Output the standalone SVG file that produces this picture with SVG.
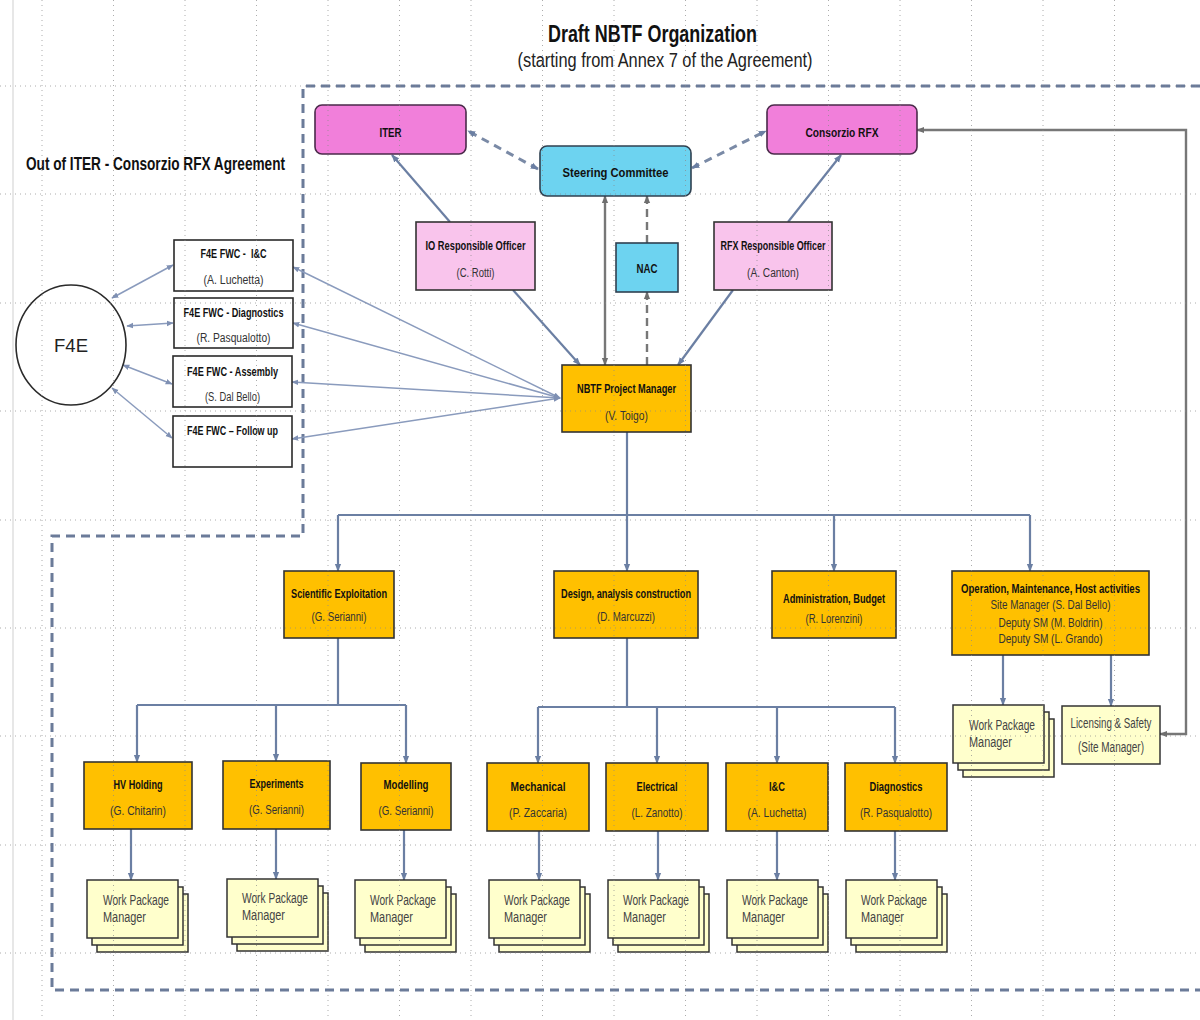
<svg xmlns="http://www.w3.org/2000/svg" xmlns:xlink="http://www.w3.org/1999/xlink" width="1200" height="1020" viewBox="0 0 1200 1020">
<style>
text{font-family:"Liberation Sans",Arial,sans-serif;}
.t{font-size:13px;font-weight:bold;text-anchor:middle;fill:#111;}
.s{font-size:12px;text-anchor:middle;fill:#333;}
.w{font-size:14px;fill:#444;}
.pink{fill:#F17FDA;stroke:#4a2a4a;stroke-width:1.6;}
.cyan{fill:#6DD3F0;stroke:#2f4050;stroke-width:1.6;}
.lpink{fill:#F9C4EC;stroke:#333;stroke-width:1.6;}
.org{fill:#FFC000;stroke:#333;stroke-width:1.6;}
.wp{fill:#FFFFCC;stroke:#333;stroke-width:1.5;}
.wh{fill:#fff;stroke:#2a2a2a;stroke-width:1.6;}
.tree{fill:none;stroke:#6b7fa3;stroke-width:2.2;}
.gr{fill:none;stroke:#777;stroke-width:2.4;}
.thin{fill:none;stroke:#8a9bbd;stroke-width:1.5;}
.dsh{fill:none;stroke:#7a8aa6;stroke-width:3;stroke-dasharray:8 6;}
.grid{fill:none;stroke:#8a8a8a;stroke-width:1;stroke-dasharray:1 4;}
</style>
<defs>
<marker id="ab" viewBox="0 0 10 10" refX="9" refY="5" markerWidth="8" markerHeight="8" markerUnits="userSpaceOnUse" orient="auto-start-reverse"><path d="M0,1 L10,5 L0,9 z" fill="#6b7fa3"/></marker>
<marker id="ag" viewBox="0 0 10 10" refX="9" refY="5" markerWidth="8" markerHeight="8" markerUnits="userSpaceOnUse" orient="auto-start-reverse"><path d="M0,1 L10,5 L0,9 z" fill="#6f6f6f"/></marker>
<marker id="at" viewBox="0 0 10 10" refX="9" refY="5" markerWidth="7" markerHeight="7" markerUnits="userSpaceOnUse" orient="auto-start-reverse"><path d="M0,1 L10,5 L0,9 z" fill="#7f90b3"/></marker>
<g id="wpstack">
<rect class="wp" x="10" y="14" width="91" height="58"/>
<rect class="wp" x="5" y="7" width="91" height="58"/>
<rect class="wp" x="0" y="0" width="91" height="58"/>
</g>
</defs>
<rect width="1200" height="1020" fill="#fff"/>

<g id="title">
<text x="652.5" y="42" font-size="23" font-weight="bold" text-anchor="middle" fill="#111" textLength="209" lengthAdjust="spacingAndGlyphs">Draft NBTF Organization</text>
<text x="665" y="67" font-size="20" text-anchor="middle" fill="#222" textLength="295" lengthAdjust="spacingAndGlyphs">(starting from Annex 7 of the Agreement)</text>
<text x="26" y="170" font-size="19" font-weight="bold" fill="#111" textLength="259" lengthAdjust="spacingAndGlyphs">Out of ITER - Consorzio RFX Agreement</text>
</g>

<g id="boundary">
<path d="M1200,86 H303 V536 H52 V990 H1200" fill="none" stroke="#6b7b99" stroke-width="3" stroke-dasharray="9 6"/>
</g>

<g id="connectors">
<path class="dsh" d="M538,169 L468,131" marker-start="url(#ab)" marker-end="url(#ab)"/>
<path class="dsh" d="M692,168 L766,131" marker-start="url(#ab)" marker-end="url(#ab)"/>
<path class="tree" stroke-width="2.5" d="M450,222 L392,155" marker-end="url(#ab)"/>
<path class="tree" stroke-width="2.5" d="M788,222 L841,155" marker-end="url(#ab)"/>
<path class="tree" stroke-width="2.5" d="M513,290 L580,365" marker-end="url(#ab)"/>
<path class="tree" stroke-width="2.5" d="M733,290 L678,365" marker-end="url(#ab)"/>
<path class="gr" d="M605,365 V196" marker-start="url(#ag)" marker-end="url(#ag)"/>
<path class="gr" stroke-dasharray="8 5" d="M647,365 V292" marker-end="url(#ag)"/>
<path class="gr" stroke-dasharray="8 5" d="M647,243 V196" marker-end="url(#ag)"/>
<path class="gr" d="M1160,734 H1186 V130 H917" marker-start="url(#ag)" marker-end="url(#ag)"/>
<path class="thin" d="M560,398 L293,267" marker-start="url(#at)" marker-end="url(#at)"/>
<path class="thin" d="M560,398 L293,323" marker-start="url(#at)" marker-end="url(#at)"/>
<path class="thin" d="M560,398 L292,382" marker-start="url(#at)" marker-end="url(#at)"/>
<path class="thin" d="M560,398 L292,439" marker-start="url(#at)" marker-end="url(#at)"/>
<path class="thin" d="M112,298 L173,265" marker-start="url(#at)" marker-end="url(#at)"/>
<path class="thin" d="M127,326 L173,323" marker-start="url(#at)" marker-end="url(#at)"/>
<path class="thin" d="M123,365 L172,384" marker-start="url(#at)" marker-end="url(#at)"/>
<path class="thin" d="M112,388 L172,438" marker-start="url(#at)" marker-end="url(#at)"/>
<path class="tree" d="M627,432 V571" marker-end="url(#ab)"/>
<path class="tree" d="M338,515 H1030"/>
<path class="tree" d="M338,515 V571" marker-end="url(#ab)"/>
<path class="tree" d="M834,515 V571" marker-end="url(#ab)"/>
<path class="tree" d="M1030,515 V571" marker-end="url(#ab)"/>
<path class="tree" d="M338,638 V705 M137,705 H406"/>
<path class="tree" d="M137,705 V762" marker-end="url(#ab)"/>
<path class="tree" d="M276,705 V761" marker-end="url(#ab)"/>
<path class="tree" d="M406,705 V763" marker-end="url(#ab)"/>
<path class="tree" d="M627,638 V707 M538,707 H895"/>
<path class="tree" d="M538,707 V763" marker-end="url(#ab)"/>
<path class="tree" d="M657,707 V763" marker-end="url(#ab)"/>
<path class="tree" d="M777,707 V763" marker-end="url(#ab)"/>
<path class="tree" d="M895,707 V763" marker-end="url(#ab)"/>
<path class="tree" d="M131,829 V880" marker-end="url(#ab)"/>
<path class="tree" d="M276,829 V879" marker-end="url(#ab)"/>
<path class="tree" d="M404,830 V880" marker-end="url(#ab)"/>
<path class="tree" d="M539,831 V880" marker-end="url(#ab)"/>
<path class="tree" d="M658,831 V880" marker-end="url(#ab)"/>
<path class="tree" d="M777,831 V880" marker-end="url(#ab)"/>
<path class="tree" d="M895,831 V880" marker-end="url(#ab)"/>
<path class="tree" d="M1003,655 V705" marker-end="url(#ab)"/>
<path class="tree" d="M1111,655 V706" marker-end="url(#ab)"/>
</g>

<g id="iter"><rect class="pink" x="315" y="105" width="151" height="49" rx="7"/><text class="t" x="390.5" y="137" font-size="14" textLength="22" lengthAdjust="spacingAndGlyphs">ITER</text></g>
<g id="consorzio"><rect class="pink" x="767" y="105" width="150" height="49" rx="7"/><text class="t" x="842" y="137" font-size="14" textLength="73" lengthAdjust="spacingAndGlyphs">Consorzio RFX</text></g>
<g id="steering"><rect class="cyan" x="540" y="146" width="151" height="50" rx="7"/><text class="t" x="615.5" y="177" font-size="14" textLength="106" lengthAdjust="spacingAndGlyphs">Steering Committee</text></g>
<g id="io-officer"><rect class="lpink" x="416" y="222" width="119" height="68"/><text class="t" x="475.5" y="250" textLength="100" lengthAdjust="spacingAndGlyphs">IO Responsible Officer</text><text class="s" x="475.5" y="277" textLength="38" lengthAdjust="spacingAndGlyphs">(C. Rotti)</text></g>
<g id="nac"><rect class="cyan" x="616" y="243" width="62" height="49"/><text class="t" x="647" y="273" textLength="21" lengthAdjust="spacingAndGlyphs">NAC</text></g>
<g id="rfx-officer"><rect class="lpink" x="714" y="222" width="118" height="68"/><text class="t" x="773" y="250" textLength="105" lengthAdjust="spacingAndGlyphs">RFX Responsible Officer</text><text class="s" x="773" y="277" textLength="52" lengthAdjust="spacingAndGlyphs">(A. Canton)</text></g>
<g id="project-manager"><rect class="org" x="562" y="365" width="129" height="67"/><text class="t" x="626.5" y="393" textLength="99" lengthAdjust="spacingAndGlyphs">NBTF Project Manager</text><text class="s" x="626.5" y="420" textLength="43" lengthAdjust="spacingAndGlyphs">(V. Toigo)</text></g>

<g id="f4e"><ellipse class="wh" cx="71" cy="345" rx="55" ry="60"/><text x="71" y="352" font-size="19" text-anchor="middle" fill="#222" textLength="34" lengthAdjust="spacingAndGlyphs">F4E</text></g>
<g id="fwc-ic"><rect class="wh" x="174" y="240" width="119" height="51"/><text class="t" x="233.5" y="258" style="white-space:pre" textLength="66" lengthAdjust="spacingAndGlyphs">F4E FWC -  I&amp;C</text><text class="s" x="233.5" y="284" textLength="60" lengthAdjust="spacingAndGlyphs">(A. Luchetta)</text></g>
<g id="fwc-diagnostics"><rect class="wh" x="174" y="298" width="119" height="50"/><text class="t" x="233.5" y="317" textLength="100" lengthAdjust="spacingAndGlyphs">F4E FWC - Diagnostics</text><text class="s" x="233.5" y="342" textLength="74" lengthAdjust="spacingAndGlyphs">(R. Pasqualotto)</text></g>
<g id="fwc-assembly"><rect class="wh" x="173" y="356" width="119" height="51"/><text class="t" x="232.5" y="376" textLength="91" lengthAdjust="spacingAndGlyphs">F4E FWC - Assembly</text><text class="s" x="232.5" y="401" textLength="55" lengthAdjust="spacingAndGlyphs">(S. Dal Bello)</text></g>
<g id="fwc-followup"><rect class="wh" x="173" y="416" width="119" height="51"/><text class="t" x="232.5" y="435" textLength="91" lengthAdjust="spacingAndGlyphs">F4E FWC – Follow up</text></g>

<g id="scientific"><rect class="org" x="284" y="571" width="110" height="67"/><text class="t" x="339" y="598" textLength="96" lengthAdjust="spacingAndGlyphs">Scientific Exploitation</text><text class="s" x="339" y="621" textLength="55" lengthAdjust="spacingAndGlyphs">(G. Serianni)</text></g>
<g id="design"><rect class="org" x="554" y="571" width="144" height="67"/><text class="t" x="626" y="598" textLength="130" lengthAdjust="spacingAndGlyphs">Design, analysis construction</text><text class="s" x="626" y="621" textLength="58" lengthAdjust="spacingAndGlyphs">(D. Marcuzzi)</text></g>
<g id="administration"><rect class="org" x="772" y="571" width="124" height="67"/><text class="t" x="834" y="603" textLength="102" lengthAdjust="spacingAndGlyphs">Administration, Budget</text><text class="s" x="834" y="623" textLength="57" lengthAdjust="spacingAndGlyphs">(R. Lorenzini)</text></g>
<g id="operation"><rect class="org" x="952" y="571" width="197" height="84"/><text class="t" x="1050.5" y="593" font-size="10" textLength="179" lengthAdjust="spacingAndGlyphs">Operation, Maintenance, Host activities</text><text class="s" x="1050.5" y="609" textLength="120" lengthAdjust="spacingAndGlyphs">Site Manager (S. Dal Bello)</text><text class="s" x="1050.5" y="627" textLength="104" lengthAdjust="spacingAndGlyphs">Deputy SM (M. Boldrin)</text><text class="s" x="1050.5" y="643" textLength="104" lengthAdjust="spacingAndGlyphs">Deputy SM (L. Grando)</text></g>
<g id="wp-operation"><use xlink:href="#wpstack" x="953" y="705"/><text class="w" x="969" y="730" textLength="66" lengthAdjust="spacingAndGlyphs">Work Package</text><text class="w" x="969" y="747" textLength="43" lengthAdjust="spacingAndGlyphs">Manager</text></g>
<g id="licensing"><rect class="wp" x="1062" y="706" width="98" height="58"/><text class="w" x="1111" y="728" text-anchor="middle" textLength="81" lengthAdjust="spacingAndGlyphs">Licensing &amp; Safety</text><text class="w" x="1111" y="752" text-anchor="middle" textLength="66" lengthAdjust="spacingAndGlyphs">(Site Manager)</text></g>

<g id="hv-holding"><rect class="org" x="84" y="762" width="108" height="67"/><text class="t" x="138" y="789" textLength="49" lengthAdjust="spacingAndGlyphs">HV Holding</text><text class="s" x="138" y="815" textLength="56" lengthAdjust="spacingAndGlyphs">(G. Chitarin)</text></g>
<g id="experiments"><rect class="org" x="223" y="761" width="107" height="68"/><text class="t" x="276.5" y="788" textLength="54" lengthAdjust="spacingAndGlyphs">Experiments</text><text class="s" x="276.5" y="814" textLength="55" lengthAdjust="spacingAndGlyphs">(G. Serianni)</text></g>
<g id="modelling"><rect class="org" x="361" y="763" width="90" height="67"/><text class="t" x="406" y="789" textLength="45" lengthAdjust="spacingAndGlyphs">Modelling</text><text class="s" x="406" y="815" textLength="55" lengthAdjust="spacingAndGlyphs">(G. Serianni)</text></g>
<g id="mechanical"><rect class="org" x="487" y="763" width="102" height="68"/><text class="t" x="538" y="791" textLength="55" lengthAdjust="spacingAndGlyphs">Mechanical</text><text class="s" x="538" y="817" textLength="58" lengthAdjust="spacingAndGlyphs">(P. Zaccaria)</text></g>
<g id="electrical"><rect class="org" x="606" y="763" width="102" height="68"/><text class="t" x="657" y="791" textLength="41" lengthAdjust="spacingAndGlyphs">Electrical</text><text class="s" x="657" y="817" textLength="51" lengthAdjust="spacingAndGlyphs">(L. Zanotto)</text></g>
<g id="ic"><rect class="org" x="726" y="763" width="102" height="68"/><text class="t" x="777" y="791" textLength="16" lengthAdjust="spacingAndGlyphs">I&amp;C</text><text class="s" x="777" y="817" textLength="59" lengthAdjust="spacingAndGlyphs">(A. Luchetta)</text></g>
<g id="diagnostics"><rect class="org" x="845" y="763" width="102" height="68"/><text class="t" x="896" y="791" textLength="53" lengthAdjust="spacingAndGlyphs">Diagnostics</text><text class="s" x="896" y="817" textLength="72" lengthAdjust="spacingAndGlyphs">(R. Pasqualotto)</text></g>

<g id="wp-hv"><use xlink:href="#wpstack" x="87" y="880"/><text class="w" x="103" y="905" textLength="66" lengthAdjust="spacingAndGlyphs">Work Package</text><text class="w" x="103" y="922" textLength="43" lengthAdjust="spacingAndGlyphs">Manager</text></g>
<g id="wp-experiments"><use xlink:href="#wpstack" x="227" y="879"/><text class="w" x="242" y="903" textLength="66" lengthAdjust="spacingAndGlyphs">Work Package</text><text class="w" x="242" y="920" textLength="43" lengthAdjust="spacingAndGlyphs">Manager</text></g>
<g id="wp-modelling"><use xlink:href="#wpstack" x="355" y="880"/><text class="w" x="370" y="905" textLength="66" lengthAdjust="spacingAndGlyphs">Work Package</text><text class="w" x="370" y="922" textLength="43" lengthAdjust="spacingAndGlyphs">Manager</text></g>
<g id="wp-mechanical"><use xlink:href="#wpstack" x="489" y="880"/><text class="w" x="504" y="905" textLength="66" lengthAdjust="spacingAndGlyphs">Work Package</text><text class="w" x="504" y="922" textLength="43" lengthAdjust="spacingAndGlyphs">Manager</text></g>
<g id="wp-electrical"><use xlink:href="#wpstack" x="608" y="880"/><text class="w" x="623" y="905" textLength="66" lengthAdjust="spacingAndGlyphs">Work Package</text><text class="w" x="623" y="922" textLength="43" lengthAdjust="spacingAndGlyphs">Manager</text></g>
<g id="wp-ic"><use xlink:href="#wpstack" x="727" y="880"/><text class="w" x="742" y="905" textLength="66" lengthAdjust="spacingAndGlyphs">Work Package</text><text class="w" x="742" y="922" textLength="43" lengthAdjust="spacingAndGlyphs">Manager</text></g>
<g id="wp-diagnostics"><use xlink:href="#wpstack" x="846" y="880"/><text class="w" x="861" y="905" textLength="66" lengthAdjust="spacingAndGlyphs">Work Package</text><text class="w" x="861" y="922" textLength="43" lengthAdjust="spacingAndGlyphs">Manager</text></g>

<g id="grid" opacity="0.7">
<path class="grid" d="M0,86 H1200 M0,194 H1200 M0,303 H1200 M0,411 H1200 M0,520 H1200 M0,628 H1200 M0,736 H1200 M0,845 H1200 M0,953 H1200"/>
<path class="grid" d="M42,0 V1020 M113.5,0 V1020 M185,0 V1020 M256.5,0 V1020 M328,0 V1020 M399.5,0 V1020 M471,0 V1020 M542.5,0 V1020 M614,0 V1020 M685.5,0 V1020 M757,0 V1020 M828.5,0 V1020 M900,0 V1020 M971.5,0 V1020 M1043,0 V1020 M1114.5,0 V1020"/>
<path d="M13,0 V1020" stroke="#bbb" stroke-width="1"/>
</g>
</svg>
